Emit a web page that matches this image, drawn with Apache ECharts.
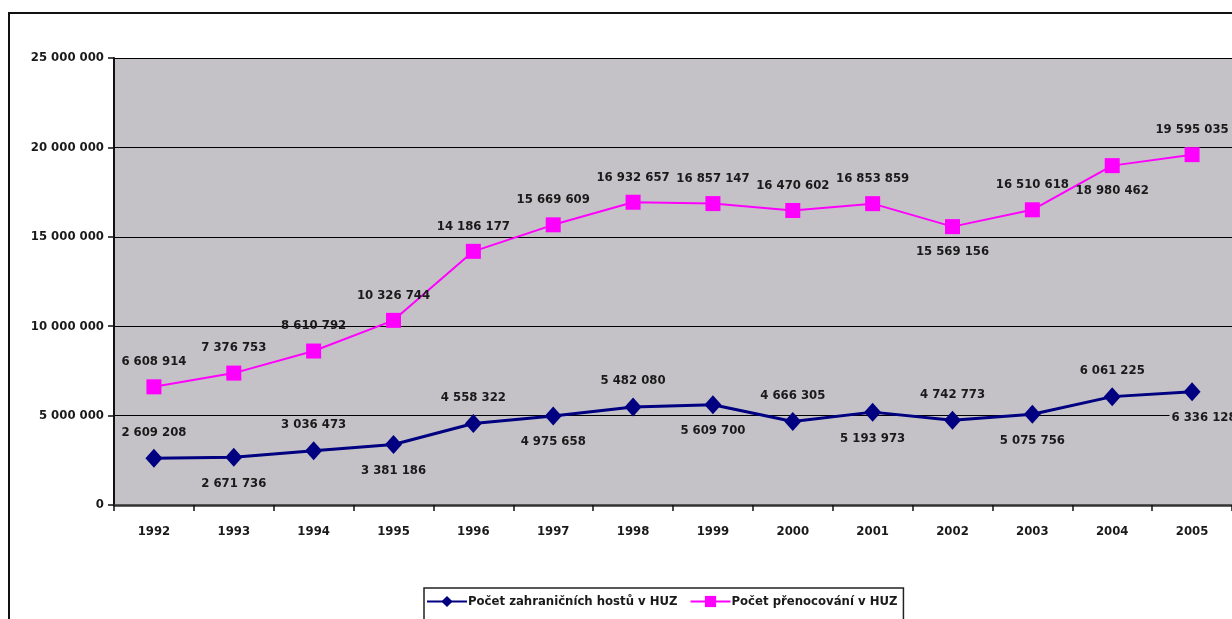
<!DOCTYPE html>
<html>
<head>
<meta charset="utf-8">
<script src="https://cdn.jsdelivr.net/npm/echarts@6/dist/echarts.min.js"></script>
<style>
  html, body { margin: 0; padding: 0; background: #fff; }
  #chart { width: 1232px; height: 619px; }
</style>
</head>
<body>
<div id="chart"></div>
<script>
// Years on the category axis
const years = ['1992','1993','1994','1995','1996','1997','1998','1999','2000','2001','2002','2003','2004','2005'];
// Foreign guests in collective accommodation (HUZ)
const guests = [2609208, 2671736, 3036473, 3381186, 4558322, 4975658, 5482080, 5609700, 4666305, 5193973, 4742773, 5075756, 6061225, 6336128];
// Overnight stays in collective accommodation (HUZ)
const nights = [6608914, 7376753, 8610792, 10326744, 14186177, 15669609, 16932657, 16857147, 16470602, 16853859, 15569156, 16510618, 18980462, 19595035];
// Where each value label sits relative to its marker
const guestsLabelPos = ['top','bottom','top','bottom','top','bottom','top','bottom','top','bottom','top','bottom','top','bottom'];
const nightsLabelPos = ['top','top','top','top','top','top','top','top','top','top','bottom','top','bottom','top'];
const seriesNames = ['Počet zahraničních hostů v HUZ', 'Počet přenocování v HUZ'];

const FONT = '"Liberation Sans Narrow", "DejaVu Sans Condensed", "Liberation Sans", sans-serif';
const PLOT_BG = '#c4c2c6';

function spaced(v) {
  return String(Math.round(v)).replace(/\B(?=(\d{3})+(?!\d))/g, ' ');
}

const labelBase = {
  show: true,
  fontFamily: FONT,
  fontWeight: 'bold',
  fontSize: 13,
  color: '#1a1a1a',
  distance: 10,
  formatter: p => spaced(p.value)
};

const guestsData = guests.map((v, i) => ({
  value: v,
  label: Object.assign({}, labelBase, {
    position: guestsLabelPos[i],
    offset: i === guests.length - 1 ? [12, 0] : [0, 0],
    backgroundColor: PLOT_BG,
    padding: [0, 2]
  })
}));

const nightsData = nights.map((v, i) => ({
  value: v,
  label: Object.assign({}, labelBase, { position: nightsLabelPos[i], distance: 11 })
}));

const chart = echarts.init(document.getElementById('chart'), null, { renderer: 'canvas' });

chart.setOption({
  backgroundColor: '#ffffff',
  animation: false,
  graphic: [{
    type: 'rect',
    z: -10,
    shape: { x: 9, y: 13, width: 1400, height: 800 },
    style: { fill: 'none', stroke: '#111', lineWidth: 2 }
  }],
  grid: {
    left: 114, top: 58, width: 1124, height: 447,
    show: true, backgroundColor: PLOT_BG, borderWidth: 0
  },
  legend: {
    left: 424, top: 588,
    itemGap: 12,
    itemWidth: 40, itemHeight: 14,
    padding: [7, 6, 30, 2],
    borderColor: '#222', borderWidth: 1.5,
    backgroundColor: '#fff',
    textStyle: { fontFamily: FONT, fontWeight: 'bold', fontSize: 13, color: '#1a1a1a', padding: [0, 0, 0, -4] },
    data: seriesNames
  },
  xAxis: {
    type: 'category',
    data: years,
    boundaryGap: true,
    axisLine: { lineStyle: { color: '#333', width: 2.5 } },
    axisTick: { show: true, length: 6, lineStyle: { color: '#111', width: 1.5 } },
    axisLabel: { margin: 20, fontFamily: FONT, fontWeight: 'bold', fontSize: 13, color: '#1a1a1a' },
    splitLine: { show: false }
  },
  yAxis: {
    type: 'value',
    min: 0, max: 25000000, interval: 5000000,
    axisLine: { show: true, lineStyle: { color: '#111', width: 2 } },
    axisTick: { show: true, length: 6, lineStyle: { color: '#111', width: 1.5 } },
    axisLabel: { margin: 10, fontFamily: FONT, fontWeight: 'bold', fontSize: 13, color: '#1a1a1a', formatter: v => spaced(v) },
    splitLine: { show: true, lineStyle: { color: '#000', width: 1.2 } }
  },
  series: [
    {
      name: seriesNames[0],
      type: 'line',
      data: guestsData,
      symbol: 'diamond',
      symbolSize: [17, 19],
      lineStyle: { color: '#000080', width: 3 },
      itemStyle: { color: '#000080' },
      z: 3
    },
    {
      name: seriesNames[1],
      type: 'line',
      data: nightsData,
      symbol: 'rect',
      symbolSize: 15,
      lineStyle: { color: '#ff00ff', width: 2 },
      itemStyle: { color: '#ff00ff' },
      z: 2
    }
  ]
});
</script>
</body>
</html>
